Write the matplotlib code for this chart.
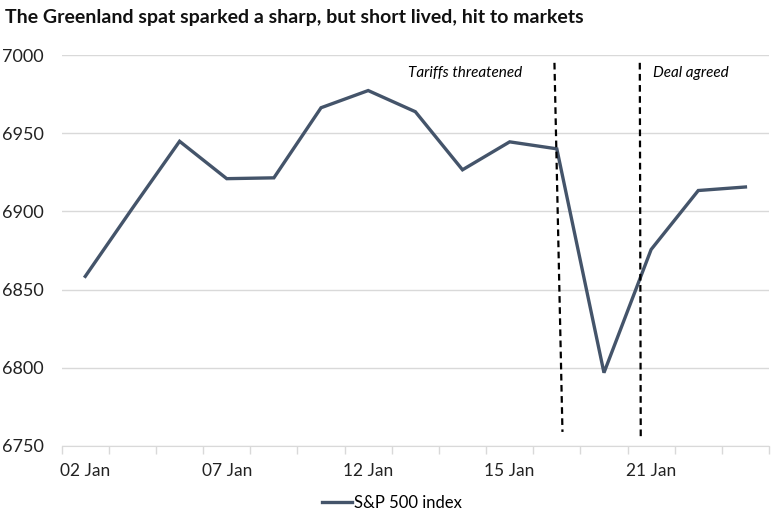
import matplotlib.pyplot as plt

# S&P 500 closes, January trading days
dates = ["02 Jan", "05 Jan", "06 Jan", "07 Jan", "08 Jan", "09 Jan", "12 Jan", "13 Jan",
         "14 Jan", "15 Jan", "16 Jan", "20 Jan", "21 Jan", "22 Jan", "23 Jan"]
spx = [6858.47, 6902.05, 6944.82, 6920.93, 6921.46, 6966.28, 6977.27, 6963.74,
       6926.60, 6944.47, 6940.01, 6796.86, 6875.62, 6913.35, 6915.61]
shown_labels = ["02 Jan", "07 Jan", "12 Jan", "15 Jan", "21 Jan"]

# event marker lines (x in category index, y in index points)
tariff_x = [9.95, 10.12]
tariff_y = [6995, 6759]
deal_x = [11.76, 11.78]
deal_y = [6995, 6756]

plt.rcParams['font.family'] = ['Lato', 'DejaVu Sans']

fig = plt.figure(figsize=(7.79, 5.18), dpi=100)
ax = fig.add_axes([61.7 / 779, 1 - 446 / 518, (769 - 61.7) / 779, (446 - 55) / 518])

xs = list(range(len(dates)))
line_color = "#44546A"
ax.plot(xs, spx, color=line_color, linewidth=2.4, label="S&P 500 index", solid_joinstyle="miter")

ax.plot(tariff_x, tariff_y, color="black", linewidth=1.6, linestyle=(0, (3, 2)))
ax.plot(deal_x, deal_y, color="black", linewidth=1.6, linestyle=(0, (3, 2)))
ax.text(6.84, 6988.5, "Tariffs threatened", fontstyle="italic", fontsize=11, va="center", ha="left")
ax.text(12.03, 6988.5, "Deal agreed", fontstyle="italic", fontsize=11, va="center", ha="left")

ax.set_xlim(-0.5, len(dates) - 0.5)
ax.set_ylim(6750, 7000)
ax.set_yticks(range(6750, 7001, 50))
ax.tick_params(axis="y", length=0, labelsize=13, pad=13, colors="#222222")
ax.grid(axis="y", color="#D9D9D9", linewidth=1)
ax.set_axisbelow(True)

# category labels at selected points, tick marks at category boundaries
ax.set_xticks([dates.index(d) for d in shown_labels])
ax.set_xticklabels(shown_labels)
ax.set_xticks([i - 0.5 for i in range(len(dates) + 1)], minor=True)
ax.tick_params(axis="x", which="major", length=0, labelsize=12.5, pad=12, colors="#222222")
ax.tick_params(axis="x", which="minor", length=6, color="#D9D9D9", width=1)

for s in ["top", "right", "left"]:
    ax.spines[s].set_visible(False)
ax.spines["bottom"].set_color("#D9D9D9")

fig.text(5 / 779, 1 - 17 / 518, "The Greenland spat sparked a sharp, but short lived, hit to markets",
         fontsize=14, fontweight="bold", va="center", ha="left", color="#111111")

fig.legend(loc="center", bbox_to_anchor=(392 / 779, 1 - 503 / 518), frameon=False,
           fontsize=12, handlelength=1.8, handletextpad=0.1)

fig.savefig("out.png", dpi=100)
